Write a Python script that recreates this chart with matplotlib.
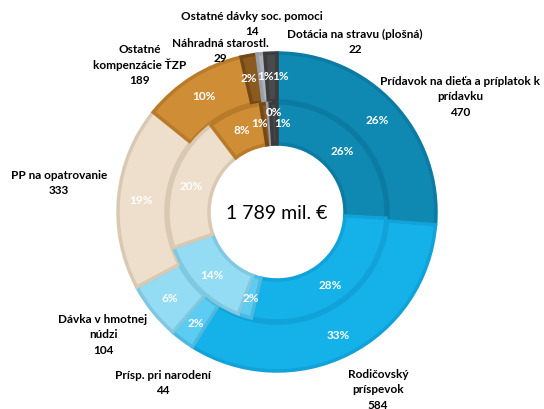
import matplotlib
matplotlib.use("Agg")
import matplotlib.pyplot as plt
import numpy as np

# ---- data ----
categories = ["Prídavok na dieťa a príplatok k\nprídavku", "Rodičovský\npríspevok",
              "Prísp. pri narodení", "Dávka v hmotnej\nnúdzi", "PP na opatrovanie",
              "Ostatné\nkompenzácie ŤZP", "Náhradná starostl.", "Ostatné dávky soc. pomoci",
              "Dotácia na stravu (plošná)"]
outer_values = [470, 584, 44, 104, 333, 189, 29, 14, 22]
outer_pct = ["26%", "33%", "2%", "6%", "19%", "10%", "2%", "1%", "1%"]
inner_values = [26, 28, 2, 14, 20, 8, 1, 0.4, 1]
inner_pct = ["26%", "28%", "2%", "14%", "20%", "8%", "1%", "0%", "1%"]
total_label = "1 789 mil. €"

face_outer = ['#0F88B2', '#14B2E8', '#5DCCF2', '#93DCF4', '#EEDFCC', '#CF8D36', '#8B5A1E', '#AEB2BA', '#4A4A4C']
face_inner = ['#0F88B2', '#14B2E8', '#5DCCF2', '#93DCF4', '#EEDFCC', '#CF8D36', '#8B5A1E', '#C6CEE2', '#4A4A4C']
edge_cols = ['#0C7BA3', '#10A2D8', '#4DB9E0', '#80C7E0', '#DAC9B2', '#B97B2A', '#74491A', '#9A9EA6', '#3C3C3E']

H = 410
def P(x, y):
    return (x, H - y)

fig = plt.figure(figsize=(5.44, 4.10), dpi=100)
ax = fig.add_axes([0, 0, 1, 1])
cx, cy = P(277, 213)

w_out, _ = ax.pie(outer_values, radius=159, center=(cx, cy), startangle=90, counterclock=False,
                  colors=face_outer, wedgeprops=dict(width=48, linewidth=2.5))
w_in, _ = ax.pie(inner_values, radius=109, center=(cx, cy), startangle=90, counterclock=False,
                 colors=face_inner, wedgeprops=dict(width=41, linewidth=2.5))
for w, ec in zip(w_out, edge_cols):
    w.set_edgecolor(ec)
for w, ec in zip(w_in, edge_cols):
    w.set_edgecolor(ec)

ax.set_xlim(0, 544)
ax.set_ylim(0, 410)
ax.set_aspect('equal')
ax.axis('off')

FONT = 'Lato'
pct_kw = dict(color='white', fontsize=8.5, fontweight='bold', family=FONT, ha='center', va='center')

def place(wedges, labels, r, nudges):
    for i, (w, lab) in enumerate(zip(wedges, labels)):
        th = np.deg2rad((w.theta1 + w.theta2) / 2)
        x = cx + r * np.cos(th)
        y = cy + r * np.sin(th)
        dx, dy = nudges.get(i, (0, 0))
        ax.text(x + dx, y - dy, lab, **pct_kw)

place(w_out, outer_pct, 137, {6: (-4, 0), 7: (2, 0), 8: (9, 0)})
place(w_in, inner_pct, 90, {6: (-7, 0), 7: (4, -11), 8: (8, 0)})

# external category labels (one text per line)
lab_kw = dict(color='black', fontsize=8.5, fontweight='bold', family=FONT, ha='center', va='center')
label_pos = [(460, 97), (378, 390), (163, 383), (103, 335), (59, 183), (140, 65), (220, 51), (252, 24), (355, 42)]
LINE_H = 15.8
for name, val, (x, y) in zip(categories, outer_values, label_pos):
    lines = f"{name}\n{val}".split("\n")
    n = len(lines)
    for k, ln in enumerate(lines):
        yy = y + (k - (n - 1) / 2) * LINE_H
        ax.text(*P(x, yy), ln, **lab_kw)

ax.text(*P(277, 214), total_label, fontsize=14, family=FONT, ha='center', va='center', color='black')

fig.savefig("out.png", dpi=100)
